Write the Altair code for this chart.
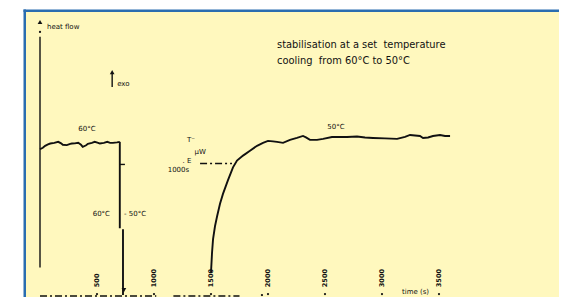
import altair as alt
import pandas as pd

# ---------------- data (time in s, heat flow in arbitrary units) ----------------
curve1_time = [0, 25, 45, 70, 90, 125, 160, 185, 200, 235, 265, 280, 305, 335, 360,
               375, 405, 420, 455, 480, 510, 525, 560, 590, 615, 640, 675, 700]
curve1_hf = [149.5, 151, 153, 154.5, 155.3, 156, 157, 155.5, 154, 153.7, 155, 155.3,
             155.5, 156, 154, 152, 153.5, 155, 156, 157, 156, 155.3, 156, 157, 156,
             156, 156.5, 157]

drop1_time = [700, 700]
drop1_hf = [157, 69]
drop2_time = [728, 728]
drop2_hf = [68, 1]

curve2_time = [1500, 1509, 1518, 1535, 1553, 1579, 1605, 1649, 1693, 1728, 1781, 1842,
               1904, 1956, 2000, 2044, 2079, 2132, 2193, 2254, 2307, 2333, 2368, 2430,
               2483, 2561, 2632, 2693, 2781, 2851, 2921, 3026, 3132, 3202, 3246, 3290,
               3333, 3360, 3404, 3447, 3509, 3553, 3597]
curve2_hf = [24, 44, 58, 71, 81, 94, 104, 118, 131, 138, 143, 148, 153, 156, 158, 157.5,
             157, 156, 159, 161, 163, 161.5, 159, 159, 160, 162, 162, 162, 162.5, 161.5,
             161, 160.5, 160, 162, 164, 163.5, 163, 161, 161.5, 163, 164, 163, 163]

tick_values = [500, 1000, 1500, 2000, 2500, 3000, 3500]

# annotation texts and where they sit (data coordinates)
notes_text = ["heat flow", "exo", "60°C", "50°C", "60°C", "- 50°C",
              "T⁻", "μW", ". E", "1000s", "time (s)"]
notes_time = [61, 677, 412, 2596, 614, 737, 1290, 1355, 1250, 1120, 3175]
notes_hf = [274, 216, 170, 172, 84, 84, 159, 147, 137, 128, 4]
notes_align = ["left", "left", "center", "center", "right", "left",
               "left", "left", "left", "left", "left"]

title_lines = ["stabilisation at a set\u00a0 temperature", "cooling\u00a0 from 60°C to 50°C"]
title_time = [2079, 2079]
title_hf = [256, 239]

# ---------------- styling ----------------
INK = "#111111"
YEL = "#FFF8BE"
BLUE = "#2a6db0"
FONT = "DejaVu Sans"

VIEW_W, VIEW_H = 533, 285
# page x = 40 + 0.114 * t ; view starts at page x 26
xs = alt.Scale(domain=[-14 / 0.114, (VIEW_W - 14) / 0.114], nice=False, zero=False)
# page y = 296 - 0.9818 * hf ; view spans page y 12 .. 297
K = 0.9818
ys = alt.Scale(domain=[(296 - 297) / K, (296 - 12) / K], nice=False, zero=False)
X = lambda f="t": alt.X(f"{f}:Q", scale=xs, axis=None)
Y = lambda f="hf": alt.Y(f"{f}:Q", scale=ys, axis=None)


def seg_df(times, hfs, seg):
    return pd.DataFrame({"t": times, "hf": hfs, "i": range(len(times)), "seg": seg})


curves = pd.concat([
    seg_df(curve1_time, curve1_hf, "c1"),
    seg_df(drop1_time, drop1_hf, "d1"),
    seg_df(drop2_time, drop2_hf, "d2"),
    seg_df(curve2_time, curve2_hf, "c2"),
])

curve_layer = alt.Chart(curves).mark_line(color=INK, strokeWidth=1.9).encode(
    x=X(), y=Y(), order="i:Q", detail="seg:N")

axis_lines = pd.concat([
    seg_df([0, 0], [29, 264], "yaxis"),
    seg_df([633, 633], [213, 227], "exo"),
    seg_df([702, 745], [134, 134], "flag"),
])
axis_layer = alt.Chart(axis_lines).mark_line(color=INK, strokeWidth=1.4).encode(
    x=X(), y=Y(), order="i:Q", detail="seg:N")

dashed = pd.concat([
    seg_df([0, 1020], [0, 0], "xa1"),
    seg_df([1170, 1750], [0, 0], "xa2"),
    seg_df([1404, 1684], [135, 135], "ref"),
])
dashed_layer = alt.Chart(dashed).mark_line(
    color=INK, strokeWidth=1.4, strokeDash=[7, 3, 2, 3]).encode(
    x=X(), y=Y(), order="i:Q", detail="seg:N")

arrows = pd.DataFrame({"t": [0, 633, 736], "hf": [279, 228, 6],
                       "shape": ["triangle-up", "triangle-up", "triangle-down"]})
arrow_layer = alt.Chart(arrows).mark_point(filled=True, color=INK, size=22, opacity=1).encode(
    x=X(), y=Y(), shape=alt.Shape("shape:N", scale=None))

dots = pd.DataFrame({"t": [0, 1947] + tick_values, "hf": [269, 1] + [2] * len(tick_values)})
dot_layer = alt.Chart(dots).mark_circle(color=INK, size=5, opacity=1).encode(x=X(), y=Y())

ticks = pd.DataFrame({"t": tick_values, "hf": [9] * len(tick_values),
                      "lab": [str(v) for v in tick_values]})
tick_layer = alt.Chart(ticks).mark_text(
    angle=270, align="left", baseline="middle", font=FONT, fontSize=6.5,
    fontWeight="bold", color=INK).encode(x=X(), y=Y(), text="lab:N")

notes = pd.DataFrame({"t": notes_time, "hf": notes_hf, "txt": notes_text, "al": notes_align})
note_layers = []
for al in ["left", "center", "right"]:
    sub = notes[notes.al == al]
    note_layers.append(alt.Chart(sub).mark_text(
        align=al, baseline="middle", font=FONT, fontSize=7, color=INK).encode(
        x=X(), y=Y(), text="txt:N"))

titles = pd.DataFrame({"t": title_time, "hf": title_hf, "txt": title_lines})
title_layer = alt.Chart(titles).mark_text(
    align="left", baseline="middle", font=FONT, fontSize=9.9, color=INK).encode(
    x=X(), y=Y(), text="txt:N")

one = pd.DataFrame({"a": [0]})
border_left = alt.Chart(one).mark_rule(color=BLUE, strokeWidth=2.5).encode(
    x=alt.value(-1.25), y=alt.value(-2.5), y2=alt.value(VIEW_H))
border_top = alt.Chart(one).mark_rule(color=BLUE, strokeWidth=2.5).encode(
    y=alt.value(-1.25), x=alt.value(-2.5), x2=alt.value(VIEW_W))

chart = alt.layer(
    border_left, border_top, dashed_layer, axis_layer, curve_layer, arrow_layer,
    dot_layer, tick_layer, *note_layers, title_layer
).properties(
    width=VIEW_W, height=VIEW_H,
    padding={"left": 18, "top": 4, "right": 0, "bottom": 0},
    autosize="none", background="white"
).configure_view(fill=YEL, strokeWidth=0)

chart.save("out.html", embed_options={"renderer": "svg", "actions": False})
